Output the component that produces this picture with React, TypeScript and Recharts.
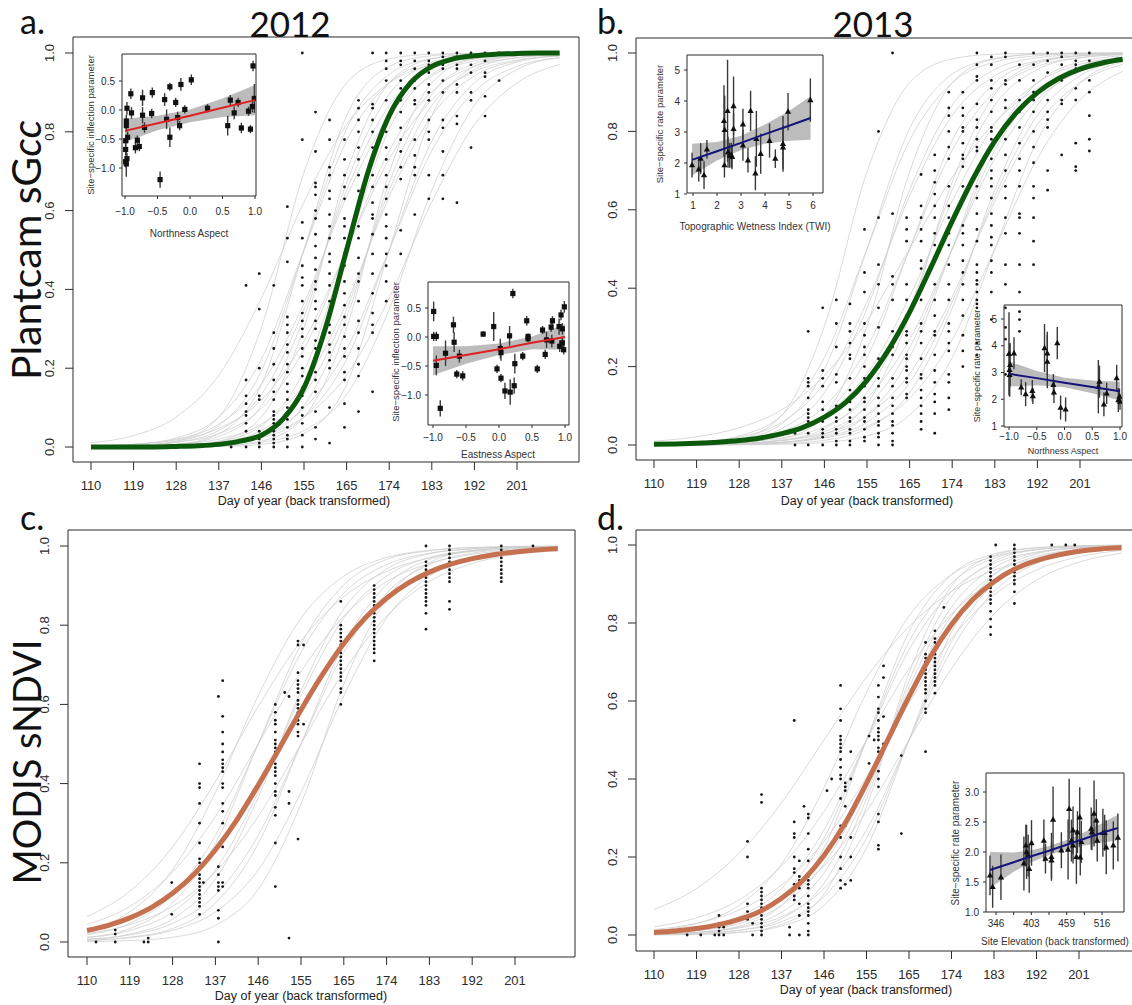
import React from 'react';
import { ComposedChart, Line, Scatter, XAxis, YAxis, ReferenceArea, ErrorBar, Area } from 'recharts';

const FONT = '"Liberation Sans", Arial, sans-serif';
const TITLE_FONT = 'Lato, "Open Sans", sans-serif';
const AX = '#2b2b2b';

// ---------- axis ticks / labels ----------
const dayTicks = [0, 1, 2, 3, 4, 5, 6, 7, 8, 9, 10];
const dayLabels = ['110', '119', '128', '137', '146', '155', '165', '174', '183', '192', '201'];
const propTicks = [0, 0.2, 0.4, 0.6, 0.8, 1.0];
const curveX = [0, 1, 2, 3, 4, 5, 6, 7, 8, 9, 10, 11];
const meanX = [0, 0.5, 1, 1.5, 2, 2.5, 3, 3.5, 4, 4.5, 5, 5.5, 6, 6.5, 7, 7.5, 8, 8.5, 9, 9.5, 10, 10.5, 11];

// ---------- population mean curves ----------
const meanA = [0, 0, 0, 0.0001, 0.0013, 0.003, 0.0067, 0.015, 0.03, 0.07, 0.15, 0.3, 0.5, 0.697, 0.841, 0.924, 0.966, 0.985, 0.993, 0.997, 0.999, 1, 1];
const meanB = [0.0017, 0.0027, 0.0044, 0.007, 0.0112, 0.018, 0.029, 0.045, 0.071, 0.109, 0.165, 0.242, 0.339, 0.453, 0.571, 0.681, 0.775, 0.847, 0.899, 0.935, 0.959, 0.974, 0.984];
const meanC = [0.029, 0.042, 0.061, 0.087, 0.123, 0.171, 0.233, 0.308, 0.396, 0.49, 0.586, 0.675, 0.754, 0.818, 0.868, 0.906, 0.934, 0.954, 0.968, 0.978, 0.985, 0.99, 0.993];
const meanD = [0.0067, 0.0105, 0.0165, 0.026, 0.04, 0.061, 0.094, 0.14, 0.204, 0.287, 0.389, 0.5, 0.611, 0.713, 0.796, 0.86, 0.906, 0.939, 0.96, 0.974, 0.984, 0.99, 0.993];

// ---------- site-level curves (values at curveX) ----------
const greyA = [
  [0.011, 0.029, 0.076, 0.182, 0.378, 0.622, 0.818, 0.924, 0.971, 0.989, 0.996, 0.998],
  [0.0006, 0.003, 0.015, 0.076, 0.303, 0.697, 0.924, 0.985, 0.997, 0.999, 1, 1],
  [0.0019, 0.0067, 0.023, 0.076, 0.223, 0.5, 0.777, 0.924, 0.977, 0.993, 0.998, 0.999],
  [0.0001, 0.0006, 0.003, 0.015, 0.076, 0.303, 0.697, 0.924, 0.985, 0.997, 0.999, 1],
  [0.001, 0.0036, 0.012, 0.042, 0.133, 0.349, 0.651, 0.867, 0.958, 0.988, 0.996, 0.999],
  [0, 0.0002, 0.0013, 0.0067, 0.034, 0.159, 0.5, 0.841, 0.966, 0.993, 0.999, 1],
  [0.0025, 0.0067, 0.018, 0.047, 0.119, 0.269, 0.5, 0.731, 0.881, 0.953, 0.982, 0.993],
  [0, 0.0001, 0.0006, 0.003, 0.015, 0.076, 0.303, 0.697, 0.924, 0.985, 0.997, 0.999],
  [0.0003, 0.001, 0.0036, 0.012, 0.042, 0.133, 0.349, 0.651, 0.867, 0.958, 0.988, 0.996],
  [0, 0, 0.0002, 0.0013, 0.0067, 0.034, 0.159, 0.5, 0.841, 0.966, 0.993, 0.999],
  [0.0002, 0.0006, 0.0019, 0.0067, 0.023, 0.076, 0.223, 0.5, 0.777, 0.924, 0.977, 0.993],
  [0.0001, 0.0003, 0.001, 0.0036, 0.012, 0.042, 0.133, 0.349, 0.651, 0.867, 0.958, 0.988],
  [0.0006, 0.0015, 0.004, 0.011, 0.029, 0.076, 0.182, 0.378, 0.622, 0.818, 0.924, 0.971],
  [0.0002, 0.0013, 0.0067, 0.034, 0.159, 0.5, 0.841, 0.966, 0.993, 0.999, 1, 1],
  [0.0008, 0.0033, 0.014, 0.054, 0.193, 0.5, 0.807, 0.946, 0.986, 0.997, 0.999, 1],
  [0.0022, 0.0067, 0.02, 0.058, 0.159, 0.365, 0.635, 0.841, 0.942, 0.98, 0.993, 0.998],
  [0.0002, 0.0008, 0.0033, 0.014, 0.054, 0.193, 0.5, 0.807, 0.946, 0.986, 0.997, 0.999],
  [0.0001, 0.0004, 0.0016, 0.0067, 0.027, 0.105, 0.329, 0.671, 0.895, 0.973, 0.993, 0.998],
  [0.0013, 0.004, 0.012, 0.034, 0.098, 0.248, 0.5, 0.752, 0.902, 0.966, 0.988, 0.996],
  [0.0004, 0.0013, 0.004, 0.012, 0.034, 0.098, 0.248, 0.5, 0.752, 0.902, 0.966, 0.988],
  [0.0004, 0.0016, 0.0067, 0.027, 0.105, 0.329, 0.671, 0.895, 0.973, 0.993, 0.998, 1],
  [0.0007, 0.0022, 0.0067, 0.02, 0.058, 0.159, 0.365, 0.635, 0.841, 0.942, 0.98, 0.993],
];
const greyB = [
  [0.0006, 0.003, 0.015, 0.076, 0.303, 0.697, 0.924, 0.985, 0.997, 0.999, 1, 1],
  [0.0019, 0.0067, 0.023, 0.076, 0.223, 0.5, 0.777, 0.924, 0.977, 0.993, 0.998, 0.999],
  [0.001, 0.0036, 0.012, 0.042, 0.133, 0.349, 0.651, 0.867, 0.958, 0.988, 0.996, 0.999],
  [0.0006, 0.0019, 0.0067, 0.023, 0.076, 0.223, 0.5, 0.777, 0.924, 0.977, 0.993, 0.998],
  [0.0003, 0.001, 0.0036, 0.012, 0.042, 0.133, 0.349, 0.651, 0.867, 0.958, 0.988, 0.996],
  [0.0015, 0.004, 0.011, 0.029, 0.076, 0.182, 0.378, 0.622, 0.818, 0.924, 0.971, 0.989],
  [0.0002, 0.0006, 0.0019, 0.0067, 0.023, 0.076, 0.223, 0.5, 0.777, 0.924, 0.977, 0.993],
  [0.0009, 0.0025, 0.0067, 0.018, 0.047, 0.119, 0.269, 0.5, 0.731, 0.881, 0.953, 0.982],
  [0.0001, 0.0003, 0.001, 0.0036, 0.012, 0.042, 0.133, 0.349, 0.651, 0.867, 0.958, 0.988],
  [0.0006, 0.0015, 0.004, 0.011, 0.029, 0.076, 0.182, 0.378, 0.622, 0.818, 0.924, 0.971],
  [0.0003, 0.0009, 0.0025, 0.0067, 0.018, 0.047, 0.119, 0.269, 0.5, 0.731, 0.881, 0.953],
  [0.0099, 0.021, 0.044, 0.09, 0.177, 0.317, 0.5, 0.683, 0.823, 0.91, 0.956, 0.979],
  [0.0001, 0.0006, 0.003, 0.015, 0.076, 0.303, 0.697, 0.924, 0.985, 0.997, 0.999, 1],
  [0, 0.0002, 0.0006, 0.0019, 0.0067, 0.023, 0.076, 0.223, 0.5, 0.777, 0.924, 0.977],
  [0.0013, 0.004, 0.012, 0.034, 0.098, 0.248, 0.5, 0.752, 0.902, 0.966, 0.988, 0.996],
  [0.0004, 0.0013, 0.004, 0.012, 0.034, 0.098, 0.248, 0.5, 0.752, 0.902, 0.966, 0.988],
  [0.0001, 0.0004, 0.0016, 0.0067, 0.027, 0.105, 0.329, 0.671, 0.895, 0.973, 0.993, 0.998],
  [0.0008, 0.0033, 0.014, 0.054, 0.193, 0.5, 0.807, 0.946, 0.986, 0.997, 0.999, 1],
  [0.0002, 0.0007, 0.0022, 0.0067, 0.02, 0.058, 0.159, 0.365, 0.635, 0.841, 0.942, 0.98],
  [0.0022, 0.0067, 0.02, 0.058, 0.159, 0.365, 0.635, 0.841, 0.942, 0.98, 0.993, 0.998],
];
const greyC = [
  [0.064, 0.128, 0.24, 0.405, 0.595, 0.76, 0.872, 0.936, 0.97, 0.986, 0.993, 0.997],
  [0.018, 0.047, 0.119, 0.269, 0.5, 0.731, 0.881, 0.953, 0.982, 0.993, 0.998, 0.999],
  [0.044, 0.09, 0.177, 0.317, 0.5, 0.683, 0.823, 0.91, 0.956, 0.979, 0.99, 0.995],
  [0.011, 0.029, 0.076, 0.182, 0.378, 0.622, 0.818, 0.924, 0.971, 0.989, 0.996, 0.998],
  [0.03, 0.064, 0.128, 0.24, 0.405, 0.595, 0.76, 0.872, 0.936, 0.97, 0.986, 0.993],
  [0.0067, 0.018, 0.047, 0.119, 0.269, 0.5, 0.731, 0.881, 0.953, 0.982, 0.993, 0.998],
  [0.021, 0.044, 0.09, 0.177, 0.317, 0.5, 0.683, 0.823, 0.91, 0.956, 0.979, 0.99],
  [0.004, 0.011, 0.029, 0.076, 0.182, 0.378, 0.622, 0.818, 0.924, 0.971, 0.989, 0.996],
  [0.001, 0.0036, 0.012, 0.042, 0.133, 0.349, 0.651, 0.867, 0.958, 0.988, 0.996, 0.999],
  [0.029, 0.076, 0.182, 0.378, 0.622, 0.818, 0.924, 0.971, 0.989, 0.996, 0.998, 0.999],
  [0.0067, 0.02, 0.058, 0.159, 0.365, 0.635, 0.841, 0.942, 0.98, 0.993, 0.998, 0.999],
  [0.012, 0.034, 0.098, 0.248, 0.5, 0.752, 0.902, 0.966, 0.988, 0.996, 0.999, 1],
  [0.004, 0.012, 0.034, 0.098, 0.248, 0.5, 0.752, 0.902, 0.966, 0.988, 0.996, 0.999],
];
const greyD = [
  [0.065, 0.119, 0.209, 0.339, 0.5, 0.661, 0.791, 0.881, 0.935, 0.965, 0.982, 0.991],
  [0.011, 0.029, 0.076, 0.182, 0.378, 0.622, 0.818, 0.924, 0.971, 0.989, 0.996, 0.998],
  [0.0067, 0.018, 0.047, 0.119, 0.269, 0.5, 0.731, 0.881, 0.953, 0.982, 0.993, 0.998],
  [0.021, 0.044, 0.09, 0.177, 0.317, 0.5, 0.683, 0.823, 0.91, 0.956, 0.979, 0.99],
  [0.004, 0.011, 0.029, 0.076, 0.182, 0.378, 0.622, 0.818, 0.924, 0.971, 0.989, 0.996],
  [0.014, 0.03, 0.064, 0.128, 0.24, 0.405, 0.595, 0.76, 0.872, 0.936, 0.97, 0.986],
  [0.0025, 0.0067, 0.018, 0.047, 0.119, 0.269, 0.5, 0.731, 0.881, 0.953, 0.982, 0.993],
  [0.0006, 0.0019, 0.0067, 0.023, 0.076, 0.223, 0.5, 0.777, 0.924, 0.977, 0.993, 0.998],
  [0.001, 0.0036, 0.012, 0.042, 0.133, 0.349, 0.651, 0.867, 0.958, 0.988, 0.996, 0.999],
  [0.0022, 0.0067, 0.02, 0.058, 0.159, 0.365, 0.635, 0.841, 0.942, 0.98, 0.993, 0.998],
  [0.0019, 0.0067, 0.023, 0.076, 0.223, 0.5, 0.777, 0.924, 0.977, 0.993, 0.998, 0.999],
  [0.0099, 0.021, 0.044, 0.09, 0.177, 0.317, 0.5, 0.683, 0.823, 0.91, 0.956, 0.979],
  [0.004, 0.012, 0.034, 0.098, 0.248, 0.5, 0.752, 0.902, 0.966, 0.988, 0.996, 0.999],
  [0.0013, 0.004, 0.012, 0.034, 0.098, 0.248, 0.5, 0.752, 0.902, 0.966, 0.988, 0.996],
  [0.0004, 0.0016, 0.0067, 0.027, 0.105, 0.329, 0.671, 0.895, 0.973, 0.993, 0.998, 1],
];

// ---------- observations: [day position, values] ----------
const obsA: [number, number[]][] = [
  [3.29, [0]],
  [3.64, [0, 0.04, 0.06, 0.08, 0.09, 0.11, 0.13, 0.17, 0.41]],
  [3.95, [0, 0.01, 0.02, 0.03, 0.04, 0.12, 0.13, 0.2, 0.35, 0.44]],
  [4.29, [0, 0.01, 0.02, 0.03, 0.04, 0.05, 0.06, 0.07, 0.08, 0.09, 0.12, 0.14, 0.17, 0.21, 0.25, 0.29, 0.41]],
  [4.61, [0, 0.02, 0.03, 0.05, 0.07, 0.08, 0.1, 0.12, 0.14, 0.16, 0.19, 0.21, 0.24, 0.26, 0.29, 0.31, 0.33, 0.47, 0.53, 0.61]],
  [4.96, [0, 0.03, 0.06, 0.08, 0.1, 0.13, 0.15, 0.18, 0.2, 0.23, 0.25, 0.28, 0.3, 0.32, 0.34, 0.37, 0.41, 0.43, 0.46, 0.53, 0.57, 0.78, 1]],
  [5.27, [0.02, 0.05, 0.09, 0.14, 0.17, 0.19, 0.22, 0.25, 0.27, 0.3, 0.32, 0.35, 0.37, 0.4, 0.42, 0.45, 0.48, 0.51, 0.54, 0.58, 0.6, 0.64, 0.66, 0.67, 0.75, 0.85]],
  [5.6, [0.01, 0.1, 0.2, 0.22, 0.24, 0.26, 0.29, 0.31, 0.34, 0.37, 0.41, 0.44, 0.47, 0.49, 0.53, 0.56, 0.59, 0.63, 0.65, 0.69, 0.71, 0.78, 0.83]],
  [5.95, [0.05, 0.11, 0.17, 0.19, 0.23, 0.25, 0.28, 0.31, 0.33, 0.36, 0.39, 0.42, 0.46, 0.49, 0.53, 0.56, 0.58, 0.63, 0.66, 0.69, 0.73, 0.78]],
  [6.28, [0.09, 0.18, 0.21, 0.25, 0.29, 0.32, 0.37, 0.42, 0.44, 0.48, 0.53, 0.56, 0.61, 0.65, 0.69, 0.73, 0.76, 0.8, 0.83, 0.86, 0.88]],
  [6.61, [0.14, 0.29, 0.31, 0.34, 0.39, 0.44, 0.49, 0.54, 0.58, 0.59, 0.62, 0.66, 0.69, 0.73, 0.76, 0.8, 0.83, 0.86, 0.87, 1]],
  [6.93, [0.37, 0.42, 0.46, 0.49, 0.53, 0.56, 0.59, 0.63, 0.66, 0.69, 0.73, 0.76, 0.8, 0.83, 0.88, 0.93, 0.96, 0.98, 1]],
  [7.27, [0.49, 0.55, 0.68, 0.71, 0.75, 0.78, 0.81, 0.85, 0.88, 0.91, 0.93, 0.97, 0.98, 1]],
  [7.6, [0.59, 0.69, 0.71, 0.74, 0.78, 0.87, 0.88, 0.91, 0.93, 0.96, 0.98, 1]],
  [7.93, [0.63, 0.69, 0.78, 0.8, 0.83, 0.88, 0.9, 0.92, 0.95, 0.97, 0.98, 1]],
  [8.26, [0.63, 0.69, 0.75, 0.81, 0.83, 0.9, 0.93, 0.96, 0.97, 0.99, 1]],
  [8.59, [0.62, 0.82, 0.84, 0.9, 0.92, 0.96, 0.97, 0.99, 1]],
  [8.92, [0.76, 0.88, 0.9, 0.95, 0.97, 0.99, 1]],
  [9.25, [0.84, 0.89, 0.94, 0.95, 0.98, 1]],
  [9.58, [0.93, 1]],
];
const obsB: [number, number[]][] = [
  [3.31, [0, 0.03]],
  [3.62, [0, 0.03, 0.05, 0.06, 0.07, 0.08, 0.09, 0.12, 0.15, 0.16, 0.17, 0.29]],
  [3.96, [0, 0.02, 0.03, 0.04, 0.06, 0.07, 0.09, 0.11, 0.15, 0.17, 0.19, 0.35]],
  [4.28, [0, 0.01, 0.03, 0.04, 0.06, 0.07, 0.09, 0.1, 0.16, 0.18, 0.25, 0.31, 0.37]],
  [4.6, [0, 0.01, 0.03, 0.04, 0.06, 0.07, 0.09, 0.11, 0.12, 0.14, 0.17, 0.22, 0.23, 0.26, 0.29, 0.31, 0.36]],
  [4.94, [0.01, 0.02, 0.04, 0.06, 0.07, 0.09, 0.11, 0.12, 0.15, 0.17, 0.2, 0.23, 0.25, 0.28, 0.31, 0.39, 0.44, 0.55]],
  [5.27, [0, 0.02, 0.03, 0.05, 0.06, 0.08, 0.1, 0.12, 0.15, 0.17, 0.2, 0.22, 0.3, 0.35, 0.41, 0.46, 0.58, 0.8]],
  [5.6, [0, 0.01, 0.03, 0.05, 0.06, 0.08, 0.1, 0.12, 0.15, 0.17, 0.23, 0.25, 0.29, 0.37, 0.41, 0.43, 0.59, 1]],
  [5.93, [0.12, 0.13, 0.16, 0.17, 0.19, 0.2, 0.22, 0.23, 0.26, 0.28, 0.29, 0.33, 0.37, 0.41, 0.52, 0.55, 0.58]],
  [6.27, [0.04, 0.06, 0.08, 0.1, 0.12, 0.14, 0.17, 0.18, 0.22, 0.26, 0.29, 0.31, 0.37, 0.4, 0.45, 0.47, 0.52, 0.55, 0.58, 0.61, 0.69]],
  [6.59, [0.03, 0.08, 0.11, 0.13, 0.16, 0.19, 0.23, 0.28, 0.29, 0.33, 0.37, 0.41, 0.47, 0.51, 0.54, 0.58, 0.61, 0.64, 0.67, 0.7, 0.74]],
  [6.92, [0.09, 0.12, 0.16, 0.18, 0.24, 0.26, 0.29, 0.31, 0.37, 0.41, 0.46, 0.51, 0.54, 0.58, 0.61, 0.66, 0.73, 0.76, 0.8, 0.84, 0.86, 0.9]],
  [7.25, [0.2, 0.24, 0.28, 0.33, 0.37, 0.41, 0.44, 0.47, 0.51, 0.54, 0.56, 0.63, 0.66, 0.71, 0.73, 0.74, 0.77, 0.8, 0.81, 0.84, 0.86, 0.9]],
  [7.58, [0.23, 0.26, 0.35, 0.36, 0.37, 0.39, 0.41, 0.42, 0.44, 0.46, 0.52, 0.55, 0.59, 0.63, 0.66, 0.75, 0.76, 0.78, 0.81, 0.83, 0.87, 0.93, 0.94, 0.97, 1]],
  [7.92, [0.32, 0.39, 0.44, 0.47, 0.51, 0.53, 0.56, 0.59, 0.63, 0.66, 0.68, 0.7, 0.73, 0.76, 0.78, 0.8, 0.81, 0.85, 0.88, 0.91, 0.93, 0.97, 0.99]],
  [8.25, [0.18, 0.27, 0.3, 0.35, 0.41, 0.46, 0.54, 0.58, 0.63, 0.66, 0.7, 0.74, 0.78, 0.81, 0.86, 0.88, 0.92, 0.93, 0.99, 1]],
  [8.58, [0.29, 0.32, 0.34, 0.39, 0.46, 0.54, 0.58, 0.59, 0.66, 0.7, 0.73, 0.77, 0.81, 0.85, 0.88, 0.93, 0.97]],
  [8.91, [0.46, 0.52, 0.58, 0.63, 0.66, 0.72, 0.76, 0.8, 0.85, 0.88, 0.9, 0.93, 0.97, 1]],
  [9.24, [0.65, 0.7, 0.81, 0.83, 0.85, 0.88, 0.92, 0.95, 0.98, 1]],
  [9.57, [0.74, 0.87, 0.88, 0.93, 0.97, 0.99, 1]],
  [9.9, [0.7, 0.71, 0.77, 0.88, 0.91, 0.96, 0.97, 0.98, 1]],
  [10.22, [0.75, 0.78, 0.84, 0.9, 0.93, 0.98, 1]],
];
const obsC: [number, number[]][] = [
  [0.21, [0]],
  [0.66, [0, 0.02, 0.03]],
  [1.33, [0]],
  [1.43, [0, 0.01]],
  [1.98, [0.07, 0.15]],
  [2.63, [0.07, 0.09, 0.1, 0.11, 0.12, 0.13, 0.14, 0.15, 0.16, 0.17, 0.19, 0.2, 0.21, 0.25, 0.3, 0.35, 0.39, 0.4, 0.45]],
  [2.72, [0.15]],
  [3.07, [0, 0.06, 0.08, 0.13, 0.14, 0.15, 0.17, 0.19, 0.24, 0.62]],
  [3.17, [0.14, 0.15, 0.24, 0.3, 0.33, 0.35, 0.39, 0.4, 0.43, 0.44, 0.45, 0.46, 0.48, 0.5, 0.53, 0.57, 0.66]],
  [4.4, [0.14, 0.25, 0.32, 0.34, 0.37, 0.38, 0.4, 0.42, 0.43, 0.44, 0.45, 0.47, 0.48, 0.49, 0.5, 0.51, 0.53, 0.55, 0.56, 0.58, 0.6]],
  [4.62, [0.63]],
  [4.72, [0.01, 0.35, 0.38, 0.62]],
  [4.93, [0.26, 0.52, 0.53, 0.55, 0.56, 0.58, 0.59, 0.6, 0.61, 0.63, 0.64, 0.65, 0.66, 0.68, 0.75, 0.76]],
  [5.06, [0.55, 0.75]],
  [5.93, [0.6, 0.63, 0.64, 0.66, 0.67, 0.68, 0.69, 0.7, 0.71, 0.72, 0.73, 0.74, 0.75, 0.76, 0.77, 0.78, 0.79, 0.8, 0.86]],
  [6.71, [0.71, 0.73, 0.74, 0.75, 0.76, 0.77, 0.78, 0.79, 0.8, 0.81, 0.82, 0.83, 0.84, 0.85, 0.86, 0.87, 0.88, 0.89, 0.9]],
  [7.92, [0.79, 0.83, 0.85, 0.86, 0.87, 0.88, 0.89, 0.9, 0.91, 0.92, 0.93, 0.94, 0.95, 0.96, 1]],
  [8.47, [0.84, 0.86, 0.91, 0.92, 0.93, 0.94, 0.95, 0.96, 0.97, 0.98, 0.99, 1]],
  [9.68, [0.91, 0.92, 0.93, 0.94, 0.95, 0.96, 0.97, 0.98, 0.99, 1]],
  [10.42, [1]],
];
const obsD: [number, number[]][] = [
  [0.78, [0]],
  [1.1, [0]],
  [1.43, [0]],
  [1.53, [0, 0.01, 0.02, 0.03, 0.05]],
  [1.64, [0, 0.02]],
  [2.2, [0.04, 0.06, 0.08, 0.2, 0.24]],
  [2.32, [0, 0.03]],
  [2.53, [0, 0.01, 0.02, 0.03, 0.04, 0.05, 0.06, 0.07, 0.08, 0.09, 0.1, 0.11, 0.12, 0.34, 0.36]],
  [3.19, [0, 0.02]],
  [3.3, [0.09, 0.1, 0.12, 0.13, 0.16, 0.17, 0.2, 0.25, 0.26, 0.29, 0.55]],
  [3.42, [0, 0.05, 0.08, 0.12, 0.14, 0.15, 0.19]],
  [3.53, [0.33]],
  [3.63, [0, 0.01, 0.03, 0.05, 0.06, 0.07, 0.08, 0.1, 0.12, 0.13, 0.14, 0.15, 0.19, 0.22, 0.26, 0.3, 0.31]],
  [4.07, [0.37]],
  [4.18, [0.4]],
  [4.39, [0.12, 0.14, 0.17, 0.2, 0.25, 0.28, 0.35, 0.4, 0.41, 0.43, 0.45, 0.47, 0.48, 0.49, 0.5, 0.51, 0.55, 0.58, 0.64]],
  [4.5, [0.13, 0.28, 0.33, 0.37, 0.38, 0.39]],
  [4.63, [0.14, 0.2, 0.25, 0.4, 0.47]],
  [5.06, [0.44, 0.51]],
  [5.18, [0.5]],
  [5.28, [0.22, 0.23, 0.29, 0.31, 0.38, 0.4, 0.42, 0.45, 0.47, 0.48, 0.5, 0.51, 0.52, 0.53, 0.55, 0.57, 0.58, 0.61, 0.64]],
  [5.4, [0.49, 0.56, 0.66, 0.69]],
  [5.82, [0.26, 0.46]],
  [6.39, [0.47, 0.57, 0.58, 0.6, 0.62, 0.63, 0.64, 0.65, 0.66, 0.67, 0.68, 0.69, 0.7, 0.71, 0.72, 0.75]],
  [6.61, [0.62, 0.64, 0.65, 0.66, 0.67, 0.68, 0.69, 0.7, 0.71, 0.72, 0.73, 0.75, 0.76, 0.78]],
  [6.82, [0.84]],
  [7.92, [0.77, 0.79, 0.81, 0.83, 0.85, 0.86, 0.87, 0.88, 0.89, 0.9, 0.91, 0.92, 0.93, 0.94, 0.95, 0.96, 0.97]],
  [8.04, [1]],
  [8.48, [0.85, 0.88, 0.9, 0.91, 0.92, 0.93, 0.94, 0.95, 0.96, 0.97, 0.98, 0.99, 1]],
  [9.36, [1]],
  [9.69, [1]],
  [9.9, [1]],
];

// ---------- inset data: [x, estimate, error half-width] ----------
const inflNorthPts = [
  [-0.98, -0.19, 0.11], [-0.98, -0.27, 0.1], [-0.99, -0.53, 0.1], [-0.99, -0.68, 0.1], [-0.99, -0.89, 0.1], [-0.98, -0.93, 0.22],
  [-0.97, -0.84, 0.1], [-0.97, 0.03, 0.11], [-0.96, -0.47, 0.1], [-0.91, 0.28, 0.09], [-0.9, -0.05, 0.1], [-0.84, -0.65, 0.1],
  [-0.81, -0.52, 0.08], [-0.78, -0.63, 0.08], [-0.73, 0.21, 0.14], [-0.73, -0.09, 0.14], [-0.7, -0.3, 0.09], [-0.58, 0.3, 0.09],
  [-0.59, -0.06, 0.08], [-0.39, 0.18, 0.11], [-0.36, -0.16, 0.17], [-0.31, 0.4, 0.07], [-0.31, -0.47, 0.17], [-0.22, 0.13, 0.08],
  [-0.19, -0.13, 0.1], [-0.14, 0.44, 0.11], [-0.16, -0.27, 0.08], [-0.08, 0.01, 0.07], [0.02, 0.52, 0.09], [0.27, 0.03, 0.07],
  [-0.46, -1.2, 0.14], [0.58, -0.27, 0.17], [0.62, 0.17, 0.09], [0.68, -0.05, 0.11], [0.74, 0.13, 0.08], [0.79, -0.31, 0.09],
  [0.9, -0.02, 0.08], [0.93, -0.33, 0.07], [0.96, 0.06, 0.1], [0.97, 0.76, 0.09], [0.99, 0.2, 0.25],
];
const inflEastPts = [
  [-0.99, 0.44, 0.17], [-0.99, 0.01, 0.08], [-0.95, 0.01, 0.08], [-0.95, -0.49, 0.17], [-0.89, -1.23, 0.14], [-0.81, -0.28, 0.22],
  [-0.69, 0.21, 0.14], [-0.68, -0.09, 0.17], [-0.64, -0.64, 0.07], [-0.6, -0.33, 0.11], [-0.55, -0.67, 0.08], [-0.24, 0.05, 0.05],
  [-0.08, 0.18, 0.25], [-0.03, -0.55, 0.07], [0.02, -0.2, 0.17], [0.03, -0.27, 0.14], [0.03, -0.71, 0.07], [0.09, -0.93, 0.14],
  [0.16, 0.02, 0.17], [0.17, -0.95, 0.22], [0.21, 0.75, 0.08], [0.23, -0.84, 0.14], [0.24, -0.46, 0.17], [0.36, -0.33, 0.07],
  [0.42, 0.28, 0.08], [0.44, -0.03, 0.06], [0.44, 0.01, 0.05], [0.58, -0.55, 0.07], [0.66, 0.12, 0.07], [0.7, -0.3, 0.08],
  [0.72, -0.05, 0.14], [0.79, 0.17, 0.08], [0.8, -0.07, 0.11], [0.81, 0.28, 0.08], [0.91, 0.18, 0.14], [0.92, -0.16, 0.1],
  [0.94, 0.38, 0.09], [0.96, 0.14, 0.1], [0.96, -0.1, 0.11], [0.98, -0.22, 0.08], [0.99, 0.52, 0.1],
];
const rateTwiPts = [
  [0.96, 1.93, 0.4], [1.24, 1.8, 0.4], [1.32, 2.14, 0.5], [1.46, 1.61, 0.45], [1.58, 2.44, 0.3], [2.29, 3.36, 1.15],
  [2.32, 3.07, 1.1], [2.31, 1.93, 0.4], [2.44, 3.68, 1.65], [2.46, 2.35, 0.5], [2.53, 2.25, 0.4], [2.6, 2.25, 0.4],
  [2.63, 2.2, 0.4], [2.69, 3.84, 0.95], [2.69, 3.1, 0.5], [3.08, 3.25, 0.5], [3.08, 2.57, 0.5], [3.29, 2.09, 0.4],
  [3.4, 3.68, 0.65], [3.6, 1.67, 0.55], [3.64, 2.78, 0.9], [3.82, 2.3, 0.65], [4.19, 2.72, 0.55], [4.43, 2.14, 0.3],
  [4.75, 2.62, 0.9], [4.75, 2.51, 0.7], [4.96, 3.66, 0.6], [5.89, 4.03, 0.7],
];
const rateNorthPts = [
  [-1.0, 3.7, 1.55], [-0.99, 3.1, 1.0], [-0.99, 2.91, 0.8], [-0.98, 3.29, 0.8], [-0.91, 3.72, 0.6], [-0.78, 2.45, 0.3],
  [-0.7, 2.19, 0.45], [-0.58, 2.32, 0.4], [-0.57, 2.12, 0.3], [-0.36, 3.91, 0.9], [-0.31, 3.72, 0.8], [-0.31, 3.41, 1.0],
  [-0.2, 2.54, 0.4], [-0.19, 2.26, 0.4], [-0.13, 4.1, 0.6], [-0.07, 1.69, 0.45], [0.02, 1.62, 0.45], [0.61, 2.47, 1.0],
  [0.63, 2.66, 0.6], [0.71, 1.81, 0.45], [0.76, 2.22, 0.4], [0.94, 2.79, 0.5], [0.97, 1.97, 0.45], [0.99, 2.1, 0.3], [1.0, 1.91, 0.3],
];
const rateElevPts = [
  [-0.34, 1.61, 0.33], [-0.19, 1.42, 0.35], [0.28, 1.58, 0.38], [1.58, 1.81, 0.45], [1.69, 2.11, 0.35], [1.73, 2.0, 0.45],
  [1.82, 1.94, 0.35], [1.88, 1.72, 0.4], [2.01, 2.15, 0.38], [2.71, 2.19, 0.35], [2.8, 1.89, 0.25], [3.14, 1.92, 0.4],
  [3.14, 1.86, 0.3], [3.23, 2.54, 0.55], [3.7, 2.03, 0.3], [4.08, 2.04, 0.5], [4.14, 2.72, 0.5], [4.27, 2.19, 0.35],
  [4.36, 2.36, 0.4], [4.36, 2.11, 0.3], [4.55, 1.92, 0.45], [4.61, 2.33, 0.35], [4.74, 2.58, 0.5], [4.77, 1.91, 0.3],
  [4.83, 2.17, 0.35], [5.39, 2.39, 0.35], [5.43, 2.33, 0.3], [5.55, 2.64, 0.55], [5.68, 2.53, 0.35], [5.73, 2.19, 0.35],
  [6.05, 2.32, 0.4], [6.15, 2.32, 0.3], [6.24, 2.08, 0.45], [6.64, 2.11, 0.4], [6.9, 2.24, 0.4],
];

// regression fits: x, fitted line, lower CI, upper CI
const inflNorthFitX = [-1, -0.5, 0, 0.5, 1];
const inflNorthFit = [-0.36, -0.23, -0.1, 0.04, 0.17];
const inflNorthLo = [-0.55, -0.35, -0.21, -0.12, -0.09];
const inflNorthHi = [-0.15, -0.1, 0.01, 0.2, 0.43];
const inflEastFitX = [-1, -0.5, 0, 0.5, 1];
const inflEastFit = [-0.41, -0.31, -0.21, -0.1, 0.0];
const inflEastLo = [-0.66, -0.46, -0.31, -0.21, -0.22];
const inflEastHi = [-0.16, -0.16, -0.11, 0.01, 0.22];
const rateTwiFitX = [0.96, 2, 3, 4, 5, 5.9];
const rateTwiFit = [2.1, 2.38, 2.65, 2.93, 3.2, 3.45];
const rateTwiLo = [1.6, 2.08, 2.42, 2.62, 2.72, 2.75];
const rateTwiHi = [2.62, 2.68, 2.88, 3.24, 3.68, 4.15];
const rateNorthFitX = [-1, -0.5, 0, 0.5, 1];
const rateNorthFit = [2.95, 2.79, 2.62, 2.46, 2.3];
const rateNorthLo = [2.48, 2.52, 2.45, 2.22, 1.95];
const rateNorthHi = [3.42, 3.06, 2.8, 2.7, 2.65];
const rateElevFitX = [-0.34, 1, 2, 3, 4, 5, 6, 6.9];
const rateElevFit = [1.7, 1.83, 1.93, 2.02, 2.12, 2.22, 2.32, 2.4];
const rateElevLo = [1.4, 1.67, 1.83, 1.95, 2.04, 2.11, 2.16, 2.19];
const rateElevHi = [2.0, 1.99, 2.03, 2.1, 2.2, 2.33, 2.48, 2.62];

// inset tick sets
const aspectTicks = [-1, -0.5, 0, 0.5, 1];
const inflTicks = [-1, -0.5, 0, 0.5];
const twiTicks = [1, 2, 3, 4, 5, 6];
const rateTicks = [1, 2, 3, 4, 5];
const elevTicks = [0, 1, 2, 3, 4, 5, 6];
const elevLabels = ['346', '', '403', '', '459', '', '516'];
const rateElevTicks = [1, 1.5, 2, 2.5, 3];

// ---------- layout (pixel geometry of plot boxes) ----------
const GEO_A = { L: 73, R: 579, T: 37, B: 462, xa: [0, 91], xb: [10, 517], ya: [0, 447], yb: [1, 53] };
const GEO_B = { L: 636, R: 1142, T: 38, B: 460, xa: [0, 654], xb: [10, 1080], ya: [0, 445], yb: [1, 53] };
const GEO_C = { L: 68, R: 575, T: 530, B: 957, xa: [0, 87], xb: [10, 515], ya: [0, 942], yb: [1, 546] };
const GEO_D = { L: 636, R: 1142, T: 530, B: 951, xa: [0, 654], xb: [10, 1079], ya: [0, 935], yb: [1, 545] };
const GEO_INF_N = { L: 122, R: 256, T: 54, B: 196, xa: [-1, 125], xb: [1, 255], ya: [0, 110], yb: [0.5, 81] };
const GEO_INF_E = { L: 428, R: 569, T: 282, B: 425, xa: [-1, 433], xb: [1, 565], ya: [0, 337], yb: [0.5, 308] };
const GEO_TWI = { L: 687, R: 823, T: 55, B: 193, xa: [1, 693], xb: [6, 813], ya: [1, 194], yb: [5, 70] };
const GEO_RN = { L: 1004, R: 1122, T: 305, B: 427, xa: [-1, 1009], xb: [1, 1120], ya: [1, 426], yb: [5, 319] };
const GEO_EL = { L: 986, R: 1124, T: 773, B: 912, xa: [0, 996], xb: [6, 1102], ya: [1, 912], yb: [3, 792] };

const lin = (a: number[], b: number[], px: number) => a[0] + ((px - a[1]) * (b[0] - a[0])) / (b[1] - a[1]);
const fmt1 = (v: number) => (Math.abs(v) < 1e-9 ? '0.0' : v.toFixed(1).replace('-', '\u2212'));

function RotTick(props: any) {
  const { x, y, payload } = props;
  return (
    <text x={x} y={y} transform={`rotate(-90 ${x} ${y})`} textAnchor="middle" fontSize={13} fontFamily={FONT} fill={AX}>
      {Number(payload.value).toFixed(1)}
    </text>
  );
}

const Dot = (p: any) => <circle cx={p.cx} cy={p.cy} r={1.4} fill="#151515" />;
const Square = (p: any) => <rect x={p.cx - 2.6} y={p.cy - 2.6} width={5.2} height={5.2} fill="#111" />;
const Tri = (p: any) => <path d={`M${p.cx},${p.cy - 3.4}L${p.cx + 3.1},${p.cy + 2.2}L${p.cx - 3.1},${p.cy + 2.2}Z`} fill="#111" />;

function MainPanel({ geo, grey, mean, color, obs, xTickMargin }: any) {
  const ML = 70, MR = 6, MT = 6, MB = 40;
  const w = geo.R - geo.L, h = geo.B - geo.T;
  const xd = [lin(geo.xa, geo.xb, geo.L), lin(geo.xa, geo.xb, geo.R)];
  const yd = [lin(geo.ya, geo.yb, geo.B), lin(geo.ya, geo.yb, geo.T)];
  const meanData = meanX.map((x, i) => ({ x, y: mean[i] }));
  const pts = obs.flatMap(([x, ys]: [number, number[]]) => ys.map((y) => ({ x, y })));
  return (
    <div style={{ position: 'absolute', left: geo.L - ML, top: geo.T - MT }}>
      <ComposedChart width={w + ML + MR} height={h + MT + MB} data={meanData} margin={{ top: MT, right: MR, left: 0, bottom: 0 }}>
        <XAxis type="number" dataKey="x" domain={xd} allowDataOverflow ticks={dayTicks} interval={0}
          tickFormatter={(v: number) => dayLabels[Math.round(v)]} height={MB} axisLine={false} tickSize={8}
          tickMargin={xTickMargin} tickLine={{ stroke: AX }} tick={{ fontSize: 13, fontFamily: FONT, fill: AX }} />
        <YAxis type="number" dataKey="y" domain={yd} allowDataOverflow ticks={propTicks} interval={0} width={ML}
          axisLine={false} tickSize={8} tickMargin={11} tickLine={{ stroke: AX }} tick={<RotTick />} />
        <ReferenceArea x1={xd[0]} x2={xd[1]} y1={yd[0]} y2={yd[1]} fill="none" stroke={AX} strokeWidth={1} ifOverflow="visible" />
        {grey.map((vals: number[], k: number) => (
          <Line key={'g' + k} data={curveX.map((x, i) => ({ x, y: vals[i] }))} dataKey="y" type="monotone"
            stroke="#cdcdcd" strokeWidth={0.75} dot={false} activeDot={false} isAnimationActive={false} />
        ))}
        <Scatter data={pts} dataKey="y" shape={Dot} isAnimationActive={false} />
        <Line dataKey="y" type="monotone" stroke={color} strokeWidth={5} dot={false} activeDot={false} isAnimationActive={false} zIndex={700} />
      </ComposedChart>
    </div>
  );
}

function Inset({ geo, pts, fx, fit, lo, hi, xTicks, xFmt, yTicks, yFmt, marker, lineColor, xTickMargin }: any) {
  const ML = 34, MR = 14, MT = 4, MB = 26;
  const w = geo.R - geo.L, h = geo.B - geo.T;
  const xd = [lin(geo.xa, geo.xb, geo.L), lin(geo.xa, geo.xb, geo.R)];
  const yd = [lin(geo.ya, geo.yb, geo.B), lin(geo.ya, geo.yb, geo.T)];
  const fitData = fx.map((x: number, i: number) => ({ x, fit: fit[i], band: [lo[i], hi[i]] }));
  const ptData = pts.map((p: number[]) => ({ x: p[0], y: p[1], e: p[2] }));
  return (
    <div style={{ position: 'absolute', left: geo.L - ML, top: geo.T - MT }}>
      <ComposedChart width={w + ML + MR} height={h + MT + MB} data={fitData} margin={{ top: MT, right: MR, left: 0, bottom: 0 }}>
        <XAxis type="number" dataKey="x" domain={xd} allowDataOverflow ticks={xTicks} interval={0} tickFormatter={xFmt}
          height={MB} axisLine={false} tickSize={3} tickMargin={xTickMargin} tickLine={{ stroke: AX }}
          tick={{ fontSize: 10, fontFamily: FONT, fill: AX }} />
        <YAxis type="number" dataKey="y" domain={yd} allowDataOverflow ticks={yTicks} interval={0} tickFormatter={yFmt}
          width={ML} axisLine={false} tickSize={3} tickMargin={4} tickLine={{ stroke: AX }}
          tick={{ fontSize: 10, fontFamily: FONT, fill: AX }} />
        <Area dataKey="band" type="linear" stroke="none" fill="#bcbcbc" fillOpacity={1} isAnimationActive={false} activeDot={false} />
        <Scatter data={ptData} dataKey="y" shape={marker} isAnimationActive={false}>
          <ErrorBar dataKey="e" direction="y" width={0} stroke="#3a3a3a" strokeWidth={1.4} />
        </Scatter>
        <Line dataKey="fit" type="linear" stroke={lineColor} strokeWidth={2} dot={false} activeDot={false} isAnimationActive={false} zIndex={700} />
        <ReferenceArea x1={xd[0]} x2={xd[1]} y1={yd[0]} y2={yd[1]} fill="none" stroke={AX} strokeWidth={1} ifOverflow="visible" />
      </ComposedChart>
    </div>
  );
}

const T = (p: any) => <text fontFamily={FONT} fontSize={12.5} fill="#222" textAnchor="middle" {...p} />;
const ST = (p: any) => <text fontFamily={FONT} fontSize={9.5} fill="#333" textAnchor="middle" {...p} />;

export default function App() {
  return (
    <div style={{ position: 'absolute', left: 0, top: 0, width: 1132, height: 1005, overflow: 'hidden', background: '#fff' }}>
      <MainPanel geo={GEO_A} grey={greyA} mean={meanA} color="#0b5a0b" obs={obsA} xTickMargin={11} />
      <MainPanel geo={GEO_B} grey={greyB} mean={meanB} color="#0b5a0b" obs={obsB} xTickMargin={11} />
      <MainPanel geo={GEO_C} grey={greyC} mean={meanC} color="#c5714f" obs={obsC} xTickMargin={11} />
      <MainPanel geo={GEO_D} grey={greyD} mean={meanD} color="#c5714f" obs={obsD} xTickMargin={11} />

      <Inset geo={GEO_INF_N} pts={inflNorthPts} fx={inflNorthFitX} fit={inflNorthFit} lo={inflNorthLo} hi={inflNorthHi}
        xTicks={aspectTicks} xFmt={fmt1} yTicks={inflTicks} yFmt={fmt1} marker={Square} lineColor="#e02020" xTickMargin={9} />
      <Inset geo={GEO_INF_E} pts={inflEastPts} fx={inflEastFitX} fit={inflEastFit} lo={inflEastLo} hi={inflEastHi}
        xTicks={aspectTicks} xFmt={fmt1} yTicks={inflTicks} yFmt={fmt1} marker={Square} lineColor="#e02020" xTickMargin={6} />
      <Inset geo={GEO_TWI} pts={rateTwiPts} fx={rateTwiFitX} fit={rateTwiFit} lo={rateTwiLo} hi={rateTwiHi}
        xTicks={twiTicks} xFmt={(v: number) => String(v)} yTicks={rateTicks} yFmt={(v: number) => String(v)} marker={Tri} lineColor="#14147a" xTickMargin={6} />
      <Inset geo={GEO_RN} pts={rateNorthPts} fx={rateNorthFitX} fit={rateNorthFit} lo={rateNorthLo} hi={rateNorthHi}
        xTicks={aspectTicks} xFmt={fmt1} yTicks={rateTicks} yFmt={(v: number) => String(v)} marker={Tri} lineColor="#14147a" xTickMargin={3} />
      <Inset geo={GEO_EL} pts={rateElevPts} fx={rateElevFitX} fit={rateElevFit} lo={rateElevLo} hi={rateElevHi}
        xTicks={elevTicks} xFmt={(v: number) => elevLabels[Math.round(v)]} yTicks={rateElevTicks} yFmt={(v: number) => v.toFixed(1)}
        marker={Tri} lineColor="#14147a" xTickMargin={5} />

      <svg width={1132} height={1005} style={{ position: 'absolute', left: 0, top: 0, pointerEvents: 'none' }}>
        <g fontFamily={TITLE_FONT} fill="#111">
          <text x={20} y={34} fontSize={34}>a.</text>
          <text x={290} y={37} fontSize={35} textAnchor="middle">2012</text>
          <text x={597} y={34} fontSize={34}>b.</text>
          <text x={873} y={37} fontSize={35} textAnchor="middle">2013</text>
          <text x={20} y={530} fontSize={34}>c.</text>
          <text x={597} y={530} fontSize={34}>d.</text>
          <text transform="translate(41,250) rotate(-90)" fontSize={41} textAnchor="middle">
            Plantcam sG<tspan fontStyle="italic">cc</tspan>
          </text>
          <text transform="translate(41,762) rotate(-90)" fontSize={38} textAnchor="middle">MODIS sNDVI</text>
        </g>
        <T x={304} y={505}>Day of year (back transformed)</T>
        <T x={867} y={505}>Day of year (back transformed)</T>
        <T x={301} y={1000}>Day of year (back transformed)</T>
        <T x={866} y={994}>Day of year (back transformed)</T>

        <ST x={189} y={237} fontSize={10}>Northness Aspect</ST>
        <ST transform="translate(94,125) rotate(-90)">Site{'\u2212'}specific inflection parameter</ST>
        <ST x={498} y={458} fontSize={10}>Eastness Aspect</ST>
        <ST transform="translate(399,352) rotate(-90)">Site{'\u2212'}specific inflection parameter</ST>
        <ST x={755} y={230} fontSize={10}>Topographic Wetness Index (TWI)</ST>
        <ST transform="translate(663,124) rotate(-90)">Site{'\u2212'}specific rate parameter</ST>
        <ST x={1063} y={454} fontSize={9}>Northness Aspect</ST>
        <ST transform="translate(980,366) rotate(-90)" fontSize={9}>Site{'\u2212'}specific rate parameter</ST>
        <ST x={1055} y={945} fontSize={10}>Site Elevation (back transformed)</ST>
        <ST transform="translate(959,843) rotate(-90)" fontSize={10}>Site{'\u2212'}specific rate parameter</ST>
      </svg>
    </div>
  );
}
